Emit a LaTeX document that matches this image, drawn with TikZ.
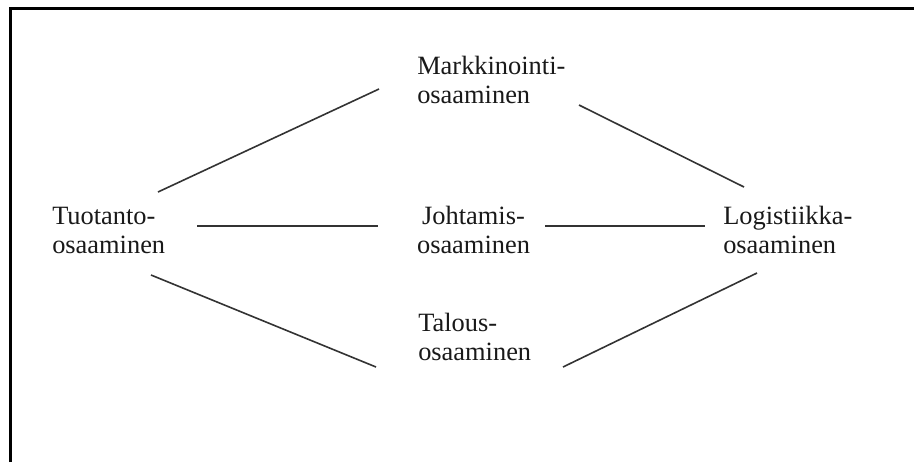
\documentclass[tikz,border=0pt]{standalone}
\usepackage{fontspec}
\setmainfont{Liberation Serif}
\begin{document}
\begin{tikzpicture}[x=0.75pt,y=-0.75pt,
  lbl/.style={inner sep=0pt,anchor=base west,text=black!90,font=\fontsize{19.8}{22}\selectfont},
  lblc/.style={lbl,anchor=base},
  link/.style={line width=1.2pt,draw=black!80},
  frame/.style={line width=2.1pt,draw=black,line join=miter}]
\useasboundingbox (0,0) rectangle (914,462);

% open frame: only the top and left edges
\draw[frame] (10.3,462) -- (10.3,8.7) -- (914,8.7);

% labels, one node per printed line
\node[lbl] (mar1) at (417,74) {Markkinointi-};
\node[lbl] (mar2) at (417,103) {osaaminen};
\node[lbl] (tuo1) at (52,224) {Tuotanto-};
\node[lbl] (tuo2) at (52,253) {osaaminen};
\node[lblc] (joh1) at (473.5,224) {Johtamis-};
\node[lblc] (joh2) at (473.5,253) {osaaminen};
\node[lbl] (log1) at (723,224) {Logistiikka-};
\node[lbl] (log2) at (723,253) {osaaminen};
\node[lbl] (tal1) at (418,331) {Talous-};
\node[lbl] (tal2) at (418,360) {osaaminen};

% free ends of the connecting lines
\coordinate (tuoNE) at (158,192);
\coordinate (marW)  at (379,89);
\coordinate (marE)  at (579,105);
\coordinate (logNW) at (744,187);
\coordinate (tuoE)  at (197,226);
\coordinate (johW)  at (378,226);
\coordinate (johE)  at (545,226);
\coordinate (logW)  at (705,226);
\coordinate (tuoSE) at (151,275);
\coordinate (talW)  at (376,367);
\coordinate (talE)  at (563,367);
\coordinate (logSW) at (757,273);

\draw[link] (tuoNE) -- (marW);
\draw[link] (marE) -- (logNW);
\draw[link] (tuoE) -- (johW);
\draw[link] (johE) -- (logW);
\draw[link] (tuoSE) -- (talW);
\draw[link] (talE) -- (logSW);
\end{tikzpicture}
\end{document}
